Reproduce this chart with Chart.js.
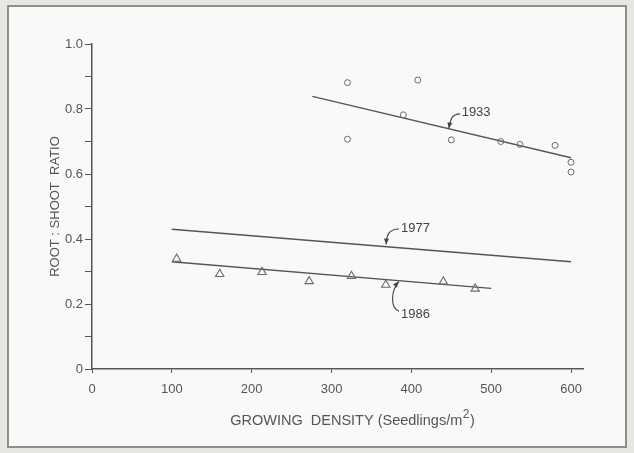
<!DOCTYPE html>
<html>
<head>
<meta charset="utf-8">
<script src="https://cdn.jsdelivr.net/npm/chart.js@4.4.1/dist/chart.umd.min.js"></script>
<style>
  body { margin: 0; background: #e8e7e3; }
  .frame { position: absolute; left: 7px; top: 5px; width: 616px; height: 439px;
           border: 2px solid #8e8e8c; background: #f9f9f7; }
  #chart { position: absolute; left: 0; top: 0; }
</style>
</head>
<body>
<div class="frame"></div>
<canvas id="chart" width="634" height="453"></canvas>
<script>
// 1933 observations (circles)
const density1933 = [320, 320, 408, 390, 450, 512, 536, 580, 600, 600];
const ratio1933 = [0.881, 0.707, 0.889, 0.782, 0.705, 0.700, 0.691, 0.688, 0.636, 0.606];

// 1986 observations (triangles)
const density1986 = [106, 160, 213, 272, 325, 368, 440, 480];
const ratio1986 = [0.339, 0.292, 0.298, 0.270, 0.286, 0.259, 0.269, 0.247];

// fitted lines, end points only
const fitX1933 = [276, 600];
const fitY1933 = [0.839, 0.650];
const fitX1977 = [100, 600];
const fitY1977 = [0.430, 0.330];
const fitX1986 = [100, 500];
const fitY1986 = [0.330, 0.248];

// tick labels
const xLabels = ['0', '100', '200', '300', '400', '500', '600'];
const yLabels = ['0', '', '0.2', '', '0.4', '', '0.6', '', '0.8', '', '1.0'];

// year labels with their arrows (data units)
const years = ['1933', '1977', '1986'];
const yearTextAt = [[463, 0.788], [387, 0.434], [387, 0.169]];
const yearArrows = [
  [[461, 0.785], [451, 0.784], [449, 0.770], [447, 0.740]],
  [[384.5, 0.431], [372, 0.430], [369, 0.415], [368.5, 0.383]],
  [[384.5, 0.178], [373, 0.188], [374.5, 0.243], [384.5, 0.269]]
];

const ink = '#555';
const fontFamily = '"Liberation Sans", Arial, sans-serif';
const toXY = (xs, ys) => xs.map((x, i) => ({ x, y: ys[i] }));

const fitLine = (xs, ys) => ({
  data: toXY(xs, ys),
  showLine: true,
  borderColor: ink,
  borderWidth: 1.3,
  pointRadius: 0
});

// draws the year labels, curved arrows and the x axis title
const notesPlugin = {
  id: 'notes',
  afterDatasetsDraw(chart) {
    const { ctx, scales: { x, y } } = chart;
    ctx.save();
    ctx.fillStyle = '#444';
    ctx.strokeStyle = '#444';
    ctx.lineWidth = 1.1;
    ctx.font = '13px ' + fontFamily;
    ctx.textBaseline = 'middle';
    ctx.textAlign = 'left';
    years.forEach((txt, i) => {
      const [tx, ty] = yearTextAt[i];
      ctx.fillText(txt, x.getPixelForValue(tx), y.getPixelForValue(ty));
      const p = yearArrows[i].map(([a, b]) => [x.getPixelForValue(a), y.getPixelForValue(b)]);
      ctx.beginPath();
      ctx.moveTo(p[0][0], p[0][1]);
      ctx.bezierCurveTo(p[1][0], p[1][1], p[2][0], p[2][1], p[3][0], p[3][1]);
      ctx.stroke();
      // arrow head
      const ang = Math.atan2(p[3][1] - p[2][1], p[3][0] - p[2][0]);
      ctx.save();
      ctx.translate(p[3][0], p[3][1]);
      ctx.rotate(ang);
      ctx.beginPath();
      ctx.moveTo(0, 0);
      ctx.lineTo(-6, -2.5);
      ctx.lineTo(-6, 2.5);
      ctx.closePath();
      ctx.fill();
      ctx.restore();
    });

    // x axis title with a superscript 2
    const main = 'GROWING  DENSITY (Seedlings/m';
    const big = '14.5px ' + fontFamily;
    const small = '12px ' + fontFamily;
    ctx.fillStyle = ink;
    ctx.font = big;
    const w1 = ctx.measureText(main).width;
    const w3 = ctx.measureText(')').width;
    ctx.font = small;
    const w2 = ctx.measureText('2').width;
    const cx = 352, cy = 421;
    const left = cx - (w1 + w2 + w3) / 2;
    ctx.font = big;
    ctx.fillText(main, left, cy);
    ctx.fillText(')', left + w1 + w2 + 1, cy);
    ctx.font = small;
    ctx.fillText('2', left + w1 + 0.5, cy - 6);
    ctx.restore();
  }
};

new Chart(document.getElementById('chart'), {
  type: 'scatter',
  data: {
    datasets: [
      {
        data: toXY(density1933, ratio1933),
        pointStyle: 'circle',
        pointRadius: 3,
        borderColor: '#6a6a6a',
        backgroundColor: 'rgba(0,0,0,0)',
        borderWidth: 1
      },
      {
        data: toXY(density1986, ratio1986),
        pointStyle: 'triangle',
        pointRadius: 4.8,
        borderColor: '#6a6a6a',
        backgroundColor: 'rgba(0,0,0,0)',
        borderWidth: 1.1
      },
      fitLine(fitX1933, fitY1933),
      fitLine(fitX1977, fitY1977),
      fitLine(fitX1986, fitY1986)
    ]
  },
  options: {
    responsive: false,
    animation: false,
    devicePixelRatio: 1,
    layout: { padding: { top: 44, right: 51, left: 0, bottom: 0 } },
    plugins: { legend: { display: false }, tooltip: { enabled: false } },
    scales: {
      x: {
        type: 'linear',
        min: 0,
        max: 615,
        afterFit: (s) => { s.height = 84; },
        border: { color: ink, width: 1.5 },
        grid: { drawOnChartArea: false, drawTicks: true, tickLength: 4, color: ink },
        ticks: {
          stepSize: 100,
          includeBounds: false,
          padding: 9,
          color: '#555',
          font: { family: fontFamily, size: 13 },
          maxRotation: 0,
          callback: (v) => xLabels[Math.round(v / 100)]
        }
      },
      y: {
        type: 'linear',
        min: 0,
        max: 1,
        afterFit: (s) => { s.width = 92; },
        border: { color: ink, width: 1.5 },
        grid: { drawOnChartArea: false, drawTicks: true, tickLength: 7, color: ink },
        ticks: {
          stepSize: 0.1,
          padding: 2,
          autoSkip: false,
          color: '#555',
          font: { family: fontFamily, size: 13 },
          callback: (v) => yLabels[Math.round(v * 10)]
        },
        title: {
          display: true,
          text: 'ROOT : SHOOT  RATIO',
          color: ink,
          font: { family: fontFamily, size: 13 },
          padding: { top: 48, bottom: 0 }
        }
      }
    }
  },
  plugins: [notesPlugin]
});
</script>
</body>
</html>
